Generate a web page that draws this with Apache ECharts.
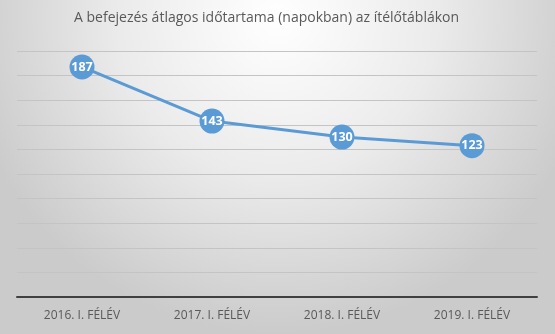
<!DOCTYPE html>
<html>
<head>
<meta charset="utf-8">
<script src="https://cdn.jsdelivr.net/npm/echarts@6/dist/echarts.min.js"></script>
<style>html,body{margin:0;padding:0;}#c{width:555px;height:334px;}</style>
</head>
<body>
<div id="c"></div>
<script>
const title = 'A befejezés átlagos időtartama (napokban) az ítélőtáblákon';
const categories = ['2016. I. FÉLÉV', '2017. I. FÉLÉV', '2018. I. FÉLÉV', '2019. I. FÉLÉV'];
const values = [187, 143, 130, 123];

const chart = echarts.init(document.getElementById('c'));
chart.setOption({
  animation: false,
  backgroundColor: {
    type: 'radial', x: 0.5, y: 0.05, r: 0.95,
    colorStops: [
      {offset: 0, color: '#ffffff'},
      {offset: 0.5, color: '#ebebeb'},
      {offset: 1, color: '#cbcbcb'}
    ]
  },
  title: {
    text: title,
    left: 69,
    top: 6,
    textStyle: {fontFamily: 'Open Sans', fontSize: 14, fontWeight: 'normal', color: '#595959'}
  },
  grid: {left: 17, right: 18, top: 51, bottom: 37, containLabel: false},
  xAxis: {
    type: 'category',
    data: categories,
    boundaryGap: true,
    axisLine: {lineStyle: {color: '#404040', width: 2}},
    axisTick: {show: false},
    axisLabel: {fontFamily: 'Open Sans', fontSize: 12, color: '#595959', margin: 13}
  },
  yAxis: {
    type: 'value',
    min: 0, max: 200, interval: 20,
    axisLine: {show: false},
    axisTick: {show: false},
    axisLabel: {show: false},
    splitLine: {lineStyle: {color: '#c4c4c4', width: 1}}
  },
  series: [{
    type: 'line',
    data: values,
    symbol: 'circle',
    symbolSize: 25,
    lineStyle: {color: '#5b9bd5', width: 3},
    itemStyle: {color: '#5b9bd5'},
    label: {
      show: true, position: 'inside',
      fontFamily: 'Open Sans', fontSize: 12.5, fontWeight: 'bold', color: '#ffffff'
    }
  }]
});
</script>
</body>
</html>
